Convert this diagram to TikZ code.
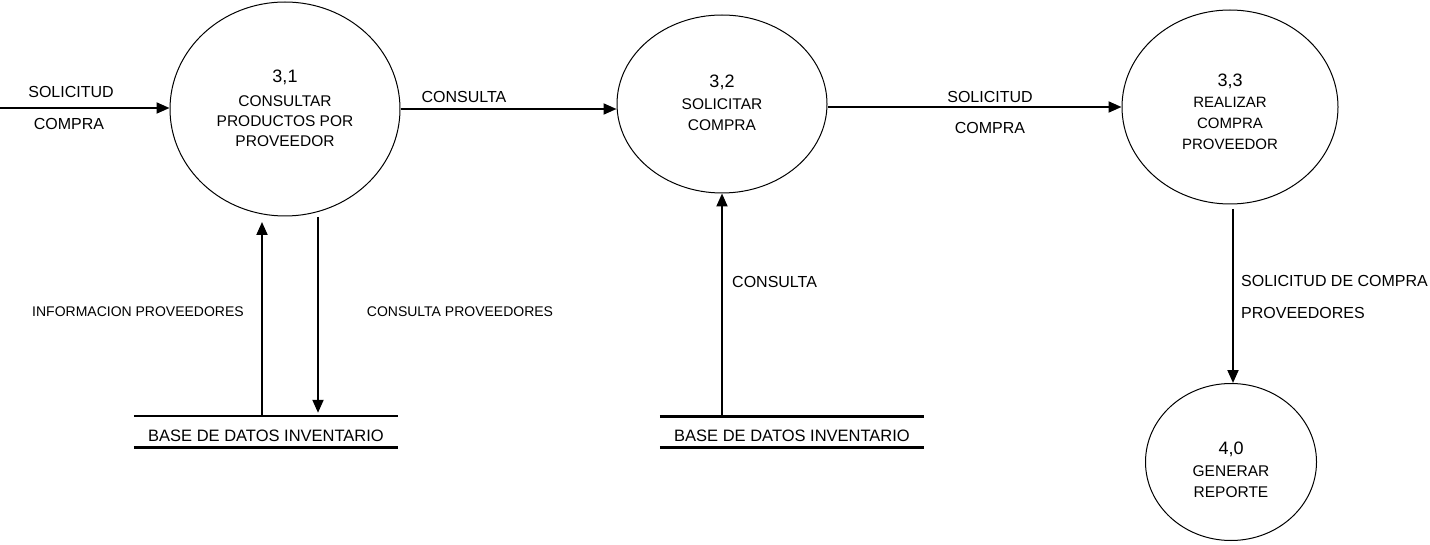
\documentclass[tikz,border=0pt]{standalone}
\usepackage{fontspec}
\setmainfont{Liberation Sans}
\usetikzlibrary{shapes.geometric,arrows.meta}
\newcommand\pnum[1]{{\fontsize{18}{20}\selectfont #1}}
\begin{document}
\begin{tikzpicture}[x=1pt,y=-1pt,
  proc/.style={draw, ellipse, line width=1, inner sep=0},
  ptext/.style={align=center, inner sep=0, anchor=north, font=\fontsize{15.5}{20}\selectfont},
  flow/.style={line width=2, -{Triangle[length=13pt,width=11pt]}},
  lbl/.style={inner sep=0, font=\fontsize{16}{19}\selectfont},
  small/.style={inner sep=0, font=\fontsize{14}{17}\selectfont},
  store/.style={minimum width=264, minimum height=31, inner sep=0,
    text height=19, text depth=0, font=\fontsize{16.5}{19}\selectfont}]
\useasboundingbox (0,0) rectangle (1430,545);

% processes
\node[proc, minimum width=230, minimum height=214] (p31) at (285,109) {};
\node[proc, minimum width=210, minimum height=178] (p32) at (722,104) {};
\node[proc, minimum width=216, minimum height=194] (p33) at (1230,107) {};
\node[proc, minimum width=171, minimum height=157] (p40) at (1231,462) {};

\node[ptext] (t31) at (285,70) {\pnum{3,1}\\[4pt]CONSULTAR\\PRODUCTOS POR\\PROVEEDOR};
\node[ptext, font=\fontsize{15.5}{21}\selectfont] (t32) at (722,75) {\pnum{3,2}\\[1pt]SOLICITAR\\COMPRA};
\node[ptext, font=\fontsize{15}{21}\selectfont] (t33) at (1230,74) {\pnum{3,3}\\REALIZAR\\COMPRA\\PROVEEDOR};
\node[ptext, font=\fontsize{15.5}{21}\selectfont] (t40) at (1231,442) {\pnum{4,0}\\[1pt]GENERAR\\REPORTE};

% data stores
\node[store] (st1) at (266,431.5) {BASE DE DATOS INVENTARIO};
\draw[line width=1.5] (st1.north west) -- (st1.north east);
\draw[line width=3] (st1.south west) -- (st1.south east);
\node[store] (st2) at (792,432) {BASE DE DATOS INVENTARIO};
\draw[line width=3] (st2.north west) -- (st2.north east);
\draw[line width=2.5] (st2.south west) -- (st2.south east);

% flows
\coordinate (src) at (0,108);
\draw[flow] (src) -- (src -| p31.west);
\draw[flow] (p31.east) -- (p31.east -| p32.west);
\draw[flow] (p33.west -| p32.east) -- (p33.west);
\coordinate (up1) at (262,222);
\draw[flow] (up1 |- st1.north) -- (up1);
\coordinate (dn1) at (318,217);
\draw[flow, shorten >=3] (dn1) -- (dn1 |- st1.north);
\draw[flow] (st2.north -| p32.south) -- (p32.south);
\coordinate (dn3) at (1233,209);
\draw[flow] (dn3) -- (dn3 |- p40.north);

% flow labels
\node[lbl] (l1a) at (71,92) {SOLICITUD};
\node[lbl] (l1b) at (69,124) {COMPRA};
\node[lbl] (l2) at (464,97) {CONSULTA};
\node[lbl] (l3a) at (990,96.5) {SOLICITUD};
\node[lbl] (l3b) at (990,128) {COMPRA};
\node[small] (l4) at (138,312) {INFORMACION PROVEEDORES};
\node[small] (l5) at (460,312) {CONSULTA PROVEEDORES};
\node[lbl, anchor=west] (l6) at (732,282) {CONSULTA};
\node[lbl, anchor=west] (l7a) at (1241,281) {SOLICITUD DE COMPRA};
\node[lbl, anchor=west] (l7b) at (1241,313) {PROVEEDORES};
\end{tikzpicture}
\end{document}
